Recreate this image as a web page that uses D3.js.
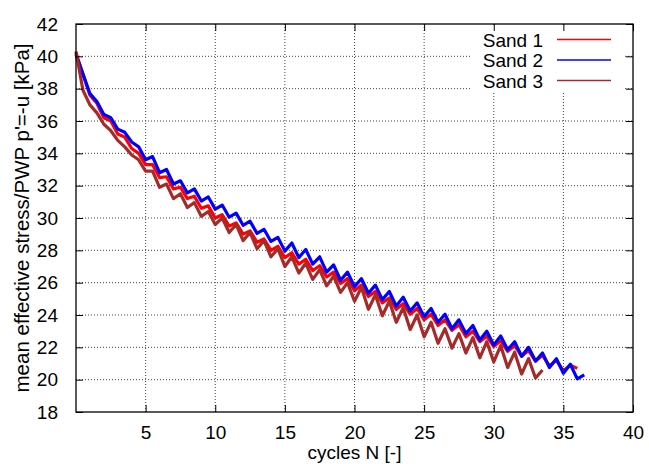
<!DOCTYPE html>
<html>
<head>
<meta charset="utf-8">
<script src="https://cdn.jsdelivr.net/npm/d3@7"></script>
<style>
    body { margin: 0; background: #fff; }
    text { font-family: "Liberation Sans", Arial, Helvetica, sans-serif; }
</style>
</head>
<body>
<svg id="chart_svg"></svg>
<script>
// mean effective stress p' [kPa], one value every half cycle (N = 0, 0.5, 1, ...)
const cycleStep = 0.5;

const sand1Values = [
    40.2, 38.9, 37.6, 37.1, 36.2, 36.0, 35.2, 35.0, 34.3, 34.0,
    33.3, 33.3, 32.5, 32.55, 31.8, 31.9, 31.2, 31.35, 30.6, 30.75,
    30.0, 30.2, 29.5, 29.7, 29.0, 29.2, 28.5, 28.7, 28.0, 28.25,
    27.55, 27.85, 27.15, 27.45, 26.75, 27.05, 26.35, 26.65, 25.95, 26.25,
    25.5, 25.85, 25.15, 25.45, 24.75, 25.05, 24.35, 24.7, 24.05, 24.4,
    23.7, 24.05, 23.35, 23.7, 23.05, 23.4, 22.65, 23.0, 22.35, 22.7,
    22.05, 22.4, 21.75, 22.1, 21.45, 21.8, 21.15, 21.5, 20.85, 21.2,
    20.55, 20.9, 20.7
];

const sand2Values = [
    40.1, 38.9, 37.7, 37.2, 36.4, 36.2, 35.5, 35.3, 34.7, 34.4,
    33.6, 33.8, 32.8, 33.0, 32.1, 32.3, 31.55, 31.8, 31.05, 31.3,
    30.55, 30.8, 30.05, 30.3, 29.55, 29.8, 29.05, 29.3, 28.55, 28.8,
    27.95, 28.45, 27.55, 28.05, 27.15, 27.6, 26.65, 27.1, 26.15, 26.65,
    25.75, 26.25, 25.35, 25.85, 24.95, 25.45, 24.55, 25.1, 24.25, 24.75,
    23.9, 24.4, 23.55, 24.05, 23.15, 23.7, 22.85, 23.35, 22.45, 23.0,
    22.15, 22.7, 21.85, 22.35, 21.45, 22.0, 21.15, 21.65, 20.75, 21.3,
    20.4, 20.95, 20.05, 20.3
];

const sand3Values = [
    40.3, 37.9, 37.0, 36.5, 35.8, 35.4, 34.8, 34.4, 33.9, 33.6,
    32.9, 32.9, 31.9, 32.1, 31.2, 31.5, 30.65, 30.95, 30.1, 30.4,
    29.6, 30.0, 29.1, 29.6, 28.6, 29.1, 28.1, 28.6, 27.6, 28.1,
    27.0, 27.6, 26.6, 27.2, 26.2, 26.8, 25.8, 26.4, 25.4, 26.0,
    24.85, 25.7, 24.35, 25.25, 23.95, 24.85, 23.55, 24.45, 23.1, 24.0,
    22.65, 23.55, 22.25, 23.15, 21.95, 22.85, 21.65, 22.6, 21.35, 22.35,
    21.1, 22.1, 20.75, 21.7, 20.35, 21.3, 20.1, 20.6
];

const seriesNames = ["Sand 1", "Sand 2", "Sand 3"];
const seriesColors = ["#ff0000", "#0000ff", "#a52a2a"];

const xTicks = [5, 10, 15, 20, 25, 30, 35, 40];
const yTicks = [18, 20, 22, 24, 26, 28, 30, 32, 34, 36, 38, 40, 42];

const width = 649, height = 464;
const margin = {top: 24, right: 16, bottom: 52, left: 76};

const svg = d3.select("#chart_svg")
    .attr("width", width)
    .attr("height", height);

var xScale = d3.scaleLinear()
    .domain([0, 40])
    .range([margin.left, width - margin.right]);

var yScale = d3.scaleLinear()
    .domain([18, 42])
    .range([height - margin.bottom, margin.top]);

// grid
const grid = svg.append("g")
    .attr("stroke", "#444")
    .attr("stroke-width", 1)
    .attr("stroke-dasharray", "1,2");

grid.selectAll(".vgrid")
    .data(xTicks.filter(d => d < 40))
    .enter()
    .append("line")
    .attr("x1", d => xScale(d))
    .attr("x2", d => xScale(d))
    .attr("y1", yScale(42))
    .attr("y2", yScale(18));

grid.selectAll(".hgrid")
    .data(yTicks.filter(d => d > 18 && d < 42))
    .enter()
    .append("line")
    .attr("x1", xScale(0))
    .attr("x2", xScale(40))
    .attr("y1", d => yScale(d))
    .attr("y2", d => yScale(d));

// key area hides the grid
svg.append("rect")
    .attr("x", 472)
    .attr("y", yScale(42) + 1)
    .attr("width", 152)
    .attr("height", 66)
    .attr("fill", "#fff");

// curves
const allSeries = [sand1Values, sand2Values, sand3Values];

const line = d3.line()
    .x((d, i) => xScale(i * cycleStep))
    .y(d => yScale(d));

svg.selectAll(".curve")
    .data(allSeries)
    .enter()
    .append("path")
    .attr("class", "curve")
    .attr("d", d => line(d))
    .attr("fill", "none")
    .attr("stroke", (d, i) => seriesColors[i])
    .attr("stroke-width", 3.2)
    .attr("stroke-linejoin", "round");

// axes, ticks on all four sides pointing inwards
const tickLen = 7;

svg.append("g")
    .attr("transform", `translate(0, ${yScale(18)})`)
    .call(d3.axisBottom(xScale).tickValues(xTicks).tickSize(-tickLen).tickPadding(14))
    .call(g => g.select(".domain").remove());

svg.append("g")
    .attr("transform", `translate(0, ${yScale(42)})`)
    .call(d3.axisTop(xScale).tickValues(xTicks).tickSize(-tickLen).tickFormat(""))
    .call(g => g.select(".domain").remove());

svg.append("g")
    .attr("transform", `translate(${xScale(0)}, 0)`)
    .call(d3.axisLeft(yScale).tickValues(yTicks).tickSize(-tickLen).tickPadding(18))
    .call(g => g.select(".domain").remove());

svg.append("g")
    .attr("transform", `translate(${xScale(40)}, 0)`)
    .call(d3.axisRight(yScale).tickValues(yTicks).tickSize(-tickLen).tickFormat(""))
    .call(g => g.select(".domain").remove());

svg.selectAll(".tick line")
    .attr("stroke", "#000");

svg.selectAll(".tick text")
    .attr("fill", "#000")
    .style("font-size", "19px");

// border
svg.append("rect")
    .attr("x", xScale(0))
    .attr("y", yScale(42))
    .attr("width", xScale(40) - xScale(0))
    .attr("height", yScale(18) - yScale(42))
    .attr("fill", "none")
    .attr("stroke", "#000")
    .attr("stroke-width", 1.3);

// axis titles
svg.append("text")
    .attr("x", (xScale(0) + xScale(40)) / 2)
    .attr("y", 459)
    .attr("text-anchor", "middle")
    .style("font-size", "19px")
    .text("cycles N [-]");

svg.append("text")
    .attr("transform", `translate(29, ${(yScale(18) + yScale(42)) / 2}) rotate(-90)`)
    .attr("text-anchor", "middle")
    .style("font-size", "20.5px")
    .text("mean effective stress/PWP p'=-u [kPa]");

// key
const legendRows = [39.5, 60, 80.5];
const legend = svg.selectAll(".legend")
    .data(seriesNames)
    .enter()
    .append("g")
    .attr("class", "legend")
    .attr("transform", (d, i) => `translate(0, ${legendRows[i]})`);

legend.append("text")
    .attr("x", 543)
    .attr("y", 7)
    .attr("text-anchor", "end")
    .style("font-size", "19px")
    .text(d => d);

legend.append("line")
    .attr("x1", 557)
    .attr("x2", 611)
    .attr("y1", 0)
    .attr("y2", 0)
    .attr("stroke", (d, i) => seriesColors[i])
    .attr("stroke-width", 1.5);
</script>
</body>
</html>
